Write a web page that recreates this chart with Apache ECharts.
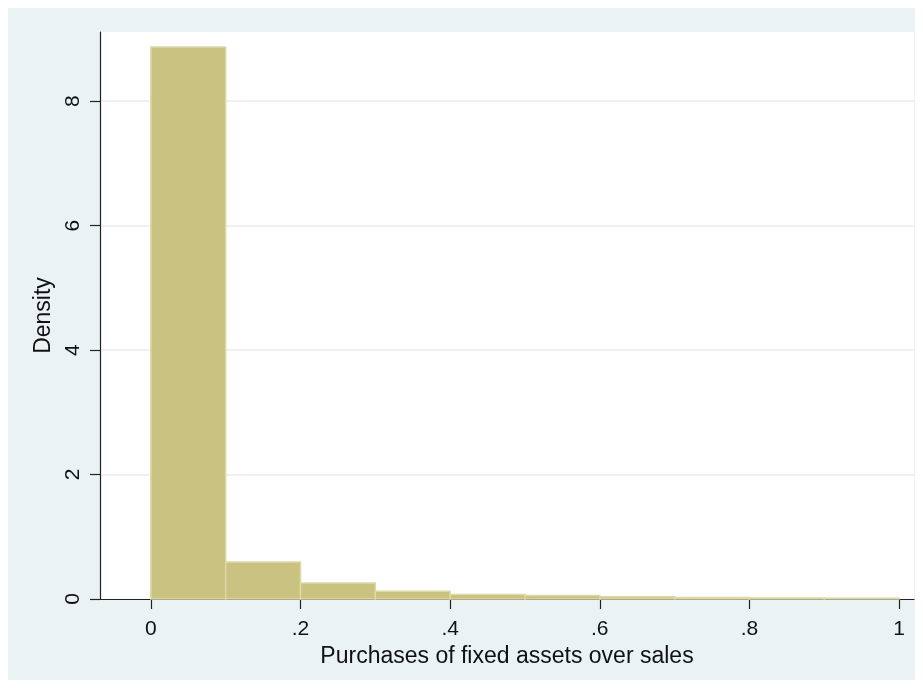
<!DOCTYPE html>
<html>
<head>
<meta charset="utf-8">
<script src="https://cdn.jsdelivr.net/npm/echarts@6/dist/echarts.min.js"></script>
<style>html,body{margin:0;padding:0;background:#fff}#c{width:923px;height:688px}</style>
</head>
<body>
<div id="c"></div>
<script>
const binStarts = [0, 0.1, 0.2, 0.3, 0.4, 0.5, 0.6, 0.7, 0.8, 0.9];
const binWidth = 0.1;
const densities = [8.87, 0.594, 0.257, 0.124, 0.074, 0.058, 0.035, 0.025, 0.015, 0.012];
const xTicks = [0, 0.2, 0.4, 0.6, 0.8, 1];
const xTickLabels = ['0', '.2', '.4', '.6', '.8', '1'];
const xTitle = 'Purchases of fixed assets over sales';
const yTitle = 'Density';

const data = binStarts.map((s, i) => [s, s + binWidth, densities[i]]);
const chart = echarts.init(document.getElementById('c'), null, {renderer: 'canvas'});
const font = 'Liberation Sans, Arial, sans-serif';
chart.setOption({
  animation: false,
  backgroundColor: '#ffffff',
  graphic: [{
    type: 'rect', z: -100, silent: true,
    shape: {x: 8, y: 8, width: 907, height: 672},
    style: {fill: '#EAF2F3'}
  }],
  grid: {left: 100, top: 32, right: 9, bottom: 89, show: true, backgroundColor: '#ffffff', borderWidth: 0},
  xAxis: {
    type: 'value', min: -0.068, max: 1.02,
    axisLine: {show: true, onZero: false, lineStyle: {color: '#222', width: 1.2}},
    axisTick: {show: true, length: 10, customValues: xTicks, lineStyle: {color: '#222', width: 1.2}},
    axisLabel: {customValues: xTicks, margin: 20, fontFamily: font, fontSize: 21, color: '#111',
      formatter: v => { const i = xTicks.findIndex(t => Math.abs(t - v) < 1e-6); return i >= 0 ? xTickLabels[i] : ''; }},
    splitLine: {show: false},
    name: xTitle, nameLocation: 'middle', nameGap: 37,
    nameTextStyle: {fontFamily: font, fontSize: 23, color: '#111'}
  },
  yAxis: {
    type: 'value', min: 0, max: 9.11, interval: 2,
    axisLine: {show: true, onZero: false, lineStyle: {color: '#222', width: 1.2}},
    axisTick: {show: true, length: 10, lineStyle: {color: '#222', width: 1.2}},
    axisLabel: {rotate: 90, margin: 16, fontFamily: font, fontSize: 21, color: '#111', showMaxLabel: false},
    splitLine: {show: true, showMinLine: false, showMaxLine: false, lineStyle: {color: '#EAF2F3', width: 2}},
    name: yTitle, nameLocation: 'middle', nameGap: 36, nameRotate: 90,
    nameTextStyle: {fontFamily: font, fontSize: 23, color: '#111'}
  },
  series: [{
    type: 'custom',
    data: data,
    encode: {x: [0, 1], y: 2},
    renderItem: (params, api) => {
      const p0 = api.coord([api.value(0), 0]);
      const p1 = api.coord([api.value(1), api.value(2)]);
      return {
        type: 'rect',
        shape: {x: p0[0], y: p1[1], width: p1[0] - p0[0], height: p0[1] - p1[1]},
        style: {fill: '#C9C281', stroke: '#DDD8A8', lineWidth: 1.5}
      };
    }
  }]
});
</script>
</body>
</html>
